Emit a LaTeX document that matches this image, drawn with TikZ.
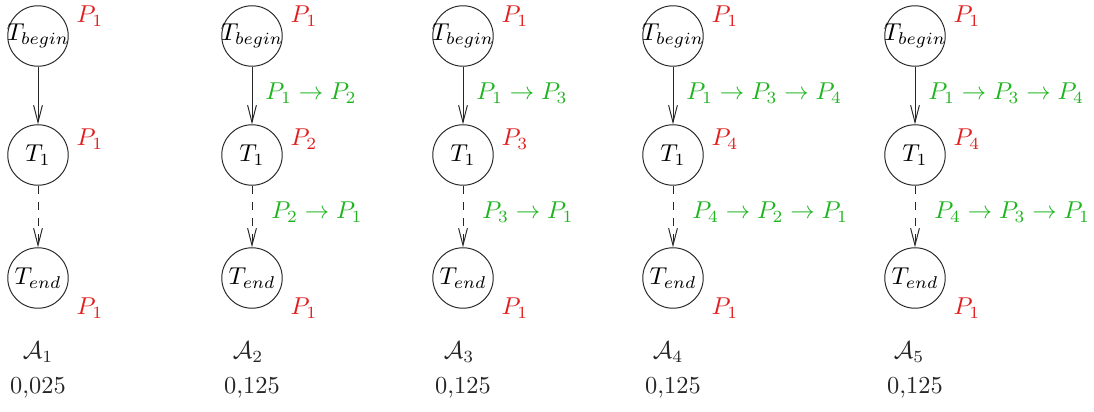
\documentclass[tikz,border=0pt]{standalone}
\usetikzlibrary{arrows.meta}
\definecolor{lred}{RGB}{225,30,30}
\definecolor{lgreen}{RGB}{30,180,30}
\tikzset{
  state/.style={draw=black!85, circle, minimum size=24.8pt, inner sep=0pt, line width=0.4pt},
  conn/.style={draw=black!85, line width=0.4pt, -{Straight Barb[length=7pt,width=3.6pt,line width=0.4pt]}},
  dconn/.style={conn, dash pattern=on 3.3pt off 3.3pt},
  plab/.style={text=lred, inner sep=0pt},
  tlab/.style={text=lgreen, anchor=west, inner sep=0pt},
  alab/.style={inner sep=0pt, text=black!85},
}
\newcommand{\fitin}[1]{\makebox[20pt]{#1}}
\begin{document}
\begin{tikzpicture}[x=0.41pt,y=-0.41pt]
\useasboundingbox (0,0) rectangle (1094,412);
\foreach \i/\x/\ta/\tb/\pm/\val/\lx in {
  1/38/{}/{}/{P_1}/{0,025}/38,
  2/252/{P_1 \to P_2}/{P_2 \to P_1}/{P_2}/{0,125}/248,
  3/463/{P_1 \to P_3}/{P_3 \to P_1}/{P_3}/{0,125}/459,
  4/673/{P_1 \to P_3 \to P_4}/{P_4 \to P_2 \to P_1}/{P_4}/{0,125}/668,
  5/915/{P_1 \to P_3 \to P_4}/{P_4 \to P_3 \to P_1}/{P_4}/{0,125}/909}{
  \node[state] (b\i) at (\x,36) {\fitin{$T_{begin}$}};
  \node[state] (m\i) at (\x,155) {\fitin{$T_1$}};
  \node[state] (e\i) at (\x,278) {\fitin{$T_{end}$}};
  \draw[conn] (b\i) -- (m\i);
  \draw[dconn] (m\i) -- (e\i);
  \node[plab] (pb\i) at (\x+52,16) {$P_1$};
  \node[plab] (pm\i) at (\x+52,139) {$\pm$};
  \node[plab] (pe\i) at (\x+52,308) {$P_1$};
  \node[tlab] (tb\i) at (\x+13,93) {$\ta$};
  \node[tlab] (te\i) at (\x+19,212) {$\tb$};
  \node[alab] (n\i) at (\lx,352) {$\mathcal{A}_\i$};
  \node[alab] (v\i) at (\x,388) {\val};
}
\end{tikzpicture}
\end{document}
